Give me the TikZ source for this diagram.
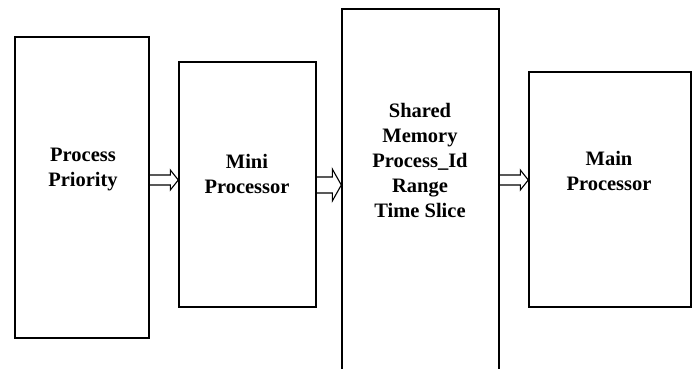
\documentclass[tikz,border=0pt]{standalone}
\usepackage{fontspec}
\setmainfont{Liberation Serif}
\usetikzlibrary{calc}
\tikzset{
  box/.style={draw=black, line width=1.4pt, fill=none, inner sep=0pt},
  lbl/.style={align=center, anchor=base, font=\bfseries\fontsize{20.5}{25}\selectfont},
  harrow/.style={draw=black, line width=1.1pt, line join=miter}
}
\newcommand{\hollowarrow}[5]{% start, end, shaft half, head half, head length
  \draw[harrow] ($(#1)+(0,-#3)$) -- ($(#2)+(-#5,-#3)$) -- ($(#2)+(-#5,-#4)$) -- (#2)
    -- ($(#2)+(-#5,#4)$) -- ($(#2)+(-#5,#3)$) -- ($(#1)+(0,#3)$);
}
\begin{document}
\begin{tikzpicture}[x=1pt,y=-1pt]
\useasboundingbox (0,0) rectangle (693,368);
\fill[white] (0,0) rectangle (693,368);
\begin{scope}
\clip (0,0) rectangle (693,368);
\node[box, minimum width=134pt, minimum height=301pt] (b1) at (82,187.5) {};
\node[box, minimum width=137pt, minimum height=245pt] (b2) at (247.5,184.5) {};
\node[box, minimum width=157pt, minimum height=371pt] (b3) at (420.5,194.5) {};
\node[box, minimum width=162pt, minimum height=235pt] (b4) at (610,189.5) {};
\end{scope}
\node[lbl] (t1) at (83,186.7) {Process\\Priority};
\node[lbl] (t2) at (247,193) {Mini\\Processor};
\node[lbl] (t3) at (420,217) {Shared\\Memory\\Process\_Id\\Range\\Time Slice};
\node[lbl] (t4) at (609,190) {Main\\Processor};
\path (b1.east |- 0,180) coordinate (a1s) (b2.west |- 0,180) coordinate (a1e);
\path (b2.east |- 0,185) coordinate (a2s) (b3.west |- 0,185) coordinate (a2e);
\path (b3.east |- 0,180) coordinate (a3s) (b4.west |- 0,180) coordinate (a3e);
\hollowarrow{a1s}{a1e}{5}{10}{8}
\hollowarrow{a2s}{a2e}{8}{16}{9}
\hollowarrow{a3s}{a3e}{5}{10}{8}
\end{tikzpicture}
\end{document}
